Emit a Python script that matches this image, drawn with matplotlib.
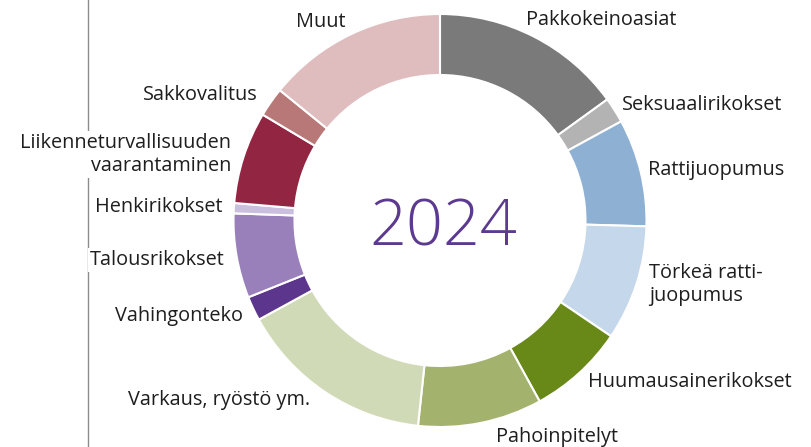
import numpy as np
import matplotlib.pyplot as plt

# crime categories, clockwise from 12 o'clock
categories = ["Pakkokeinoasiat", "Seksuaalirikokset", "Rattijuopumus",
              "Törkeä ratti-\njuopumus", "Huumausainerikokset", "Pahoinpitelyt",
              "Varkaus, ryöstö ym.", "Vahingonteko", "Talousrikokset",
              "Henkirikokset", "Liikenneturvallisuuden\nvaarantaminen",
              "Sakkovalitus", "Muut"]
shares = [15.0, 2.0, 8.4, 9.0, 7.5, 9.7, 15.3, 1.9, 6.6, 0.8, 7.2, 2.3, 14.1]
colors = ["#7a7a7a", "#b3b3b3", "#8db0d3", "#c5d7ea", "#688818", "#a3b36e",
          "#d1dab6", "#5c358c", "#9a80ba", "#cbbfe0", "#922642", "#b87878",
          "#dfbdbf"]
year = "2024"

# label anchor (pixel x, pixel y of last baseline, alignment)
label_pos = [(526, 25, "left"), (622, 110, "left"), (648, 175, "left"),
             (649, 301, "left"), (588, 387, "left"), (496, 442, "left"),
             (310, 405, "right"), (243, 321, "right"), (225, 265, "right"),
             (223, 212, "right"), (231, 171, "right"), (258, 100, "right"),
             (346, 27, "right")]

W, H = 812, 447
fig = plt.figure(figsize=(W / 100, H / 100), dpi=100)
ax = fig.add_axes([0, 0, 1, 1])

cx, cy, R = 440, H - 220.5, 206.5
ax.pie(shares, colors=colors, startangle=90, counterclock=False,
       center=(cx, cy), radius=R,
       wedgeprops=dict(width=R - 145.5, edgecolor="white", linewidth=1.5))
ax.set_xlim(0, W)
ax.set_ylim(0, H)
ax.set_aspect("auto")
ax.axis("off")

# grey rule on the left
ax.plot([88, 88], [0, H], color="#8c8c8c", lw=1, zorder=0)

for lab, (px, py, ha) in zip(categories, label_pos):
    ax.text(px, H - py, lab, ha=ha, va="baseline", fontsize=14.3,
            family="Open Sans", color="#1e1e1e", linespacing=1.17,
            multialignment=ha,
            bbox=dict(facecolor="white", edgecolor="none", pad=1.5), zorder=3)

ax.text(cx + 3, H - 245, year, ha="center", va="baseline", fontsize=46.5,
        family="Open Sans", fontweight="light", color="#5b3a8f")

fig.savefig("out.png", dpi=100)
